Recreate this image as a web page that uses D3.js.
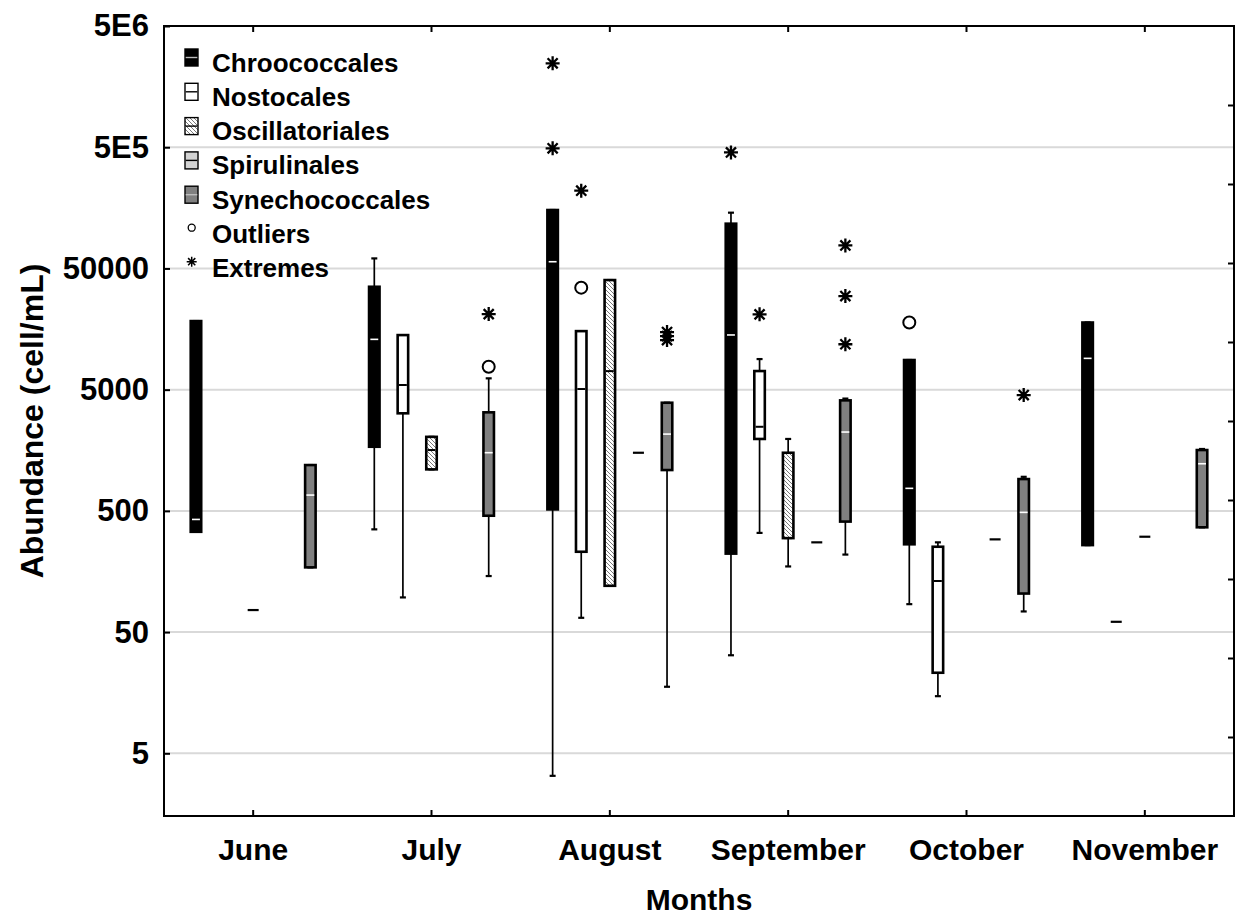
<!DOCTYPE html>
<html><head><meta charset="utf-8">
<script src="https://cdn.jsdelivr.net/npm/d3@7"></script>
<style>
body{margin:0;background:#fff}
svg{display:block}
text{font-family:"Liberation Sans",Arial,Helvetica,sans-serif;font-weight:bold;fill:#000}
</style>
</head><body>
<svg id="chart" width="1236" height="916"></svg>
<script>
// ---------- data ----------
const months = ["June","July","August","September","October","November"];
const orders = ["Chroococcales","Nostocales","Oscillatoriales","Spirulinales","Synechococcales"];
// per month: [lower whisker, Q1, median, Q3, upper whisker]; null = no data
const chroococcales   = [[336,336,425,18400,18400],[352,1690,13000,35300,60500],[3.26,514,56800,151700,151700],[32.2,222,14130,117000,144200],[85,265,767,8780,8780],[261,261,9060,17900,17900]];
const nostocales      = [null,[96.6,3190,5460,14100,14100],[65.6,230,5060,15200,15200],[329,1960,2470,7120,8940],[14.8,23.1,132,253,275],[60.8,60.8,60.8,60.8,60.8]];
const oscillatoriales = [[76,76,76,76,76],[1100,1100,1588,2040,2040],[120.5,120.5,7110,40100,40100],[174,298,298,1508,1960],null,[306,306,306,306,306]];
const spirulinales    = [null,null,[1508,1508,1508,1508,1508],[275,275,275,275,275],[291,291,291,291,291],null];
const synechococcales = [[171,171,675,1194,1194],[145,456,1510,3250,6200],[17.7,1086,2150,3900,3900],[218,408,2235,4080,4220],[74,104,486,915,955],[366,366,1224,1588,1620]];
const outliers = [["July","Synechococcales",7720],["August","Nostocales",34700],["October","Chroococcales",17900]];
const extremes = [["July","Synechococcales",21000],["August","Chroococcales",2460000],["August","Chroococcales",490000],["August","Nostocales",219000],["August","Synechococcales",14930],["August","Synechococcales",13830],["August","Synechococcales",12820],["September","Chroococcales",453000],["September","Nostocales",20900],["September","Synechococcales",77400],["September","Synechococcales",29600],["September","Synechococcales",11850],["October","Synechococcales",4510]];
const yTickValues = [5,50,500,5000,50000,500000,5000000];
const yTickLabels = ["5","50","500","5000","50000","5E5","5E6"];
const legendLabels = ["Chroococcales","Nostocales","Oscillatoriales","Spirulinales","Synechococcales","Outliers","Extremes"];

const statsBySeries = {Chroococcales:chroococcales,Nostocales:nostocales,Oscillatoriales:oscillatoriales,Spirulinales:spirulinales,Synechococcales:synechococcales};
const fills = {Chroococcales:"#000",Nostocales:"#fff",Oscillatoriales:"url(#hatch)",Spirulinales:"#d3d3d3",Synechococcales:"#808080"};
const medianColor = {Chroococcales:"#fff",Nostocales:"#000",Oscillatoriales:"#000",Spirulinales:"#000",Synechococcales:"#fff"};

// ---------- layout ----------
const L = 164, R = 1234, T = 26, B = 816;
const svg = d3.select("#chart");
const defs = svg.append("defs");
const pat = defs.append("pattern").attr("id","hatch").attr("patternUnits","userSpaceOnUse").attr("width",4).attr("height",4);
pat.append("rect").attr("width",4).attr("height",4).attr("fill","#fff");
pat.append("path").attr("d","M-1,-1L5,5M-1,3L1,5M3,-1L5,1").attr("stroke","#6a6a6a").attr("stroke-width",0.9);

const x = d3.scaleBand().domain(months).range([L,R]);
const slot = d3.scalePoint().domain(orders).range([-57.2,57.2]);
const cx = (m,s) => x(m) + x.bandwidth()/2 + slot(s);
const y = d3.scaleLog().domain([1.52,5e6]).range([B,T]);
const yRight = d3.scaleLinear().domain([0,10]).range([B,T]);

// gridlines
svg.append("g").selectAll("line").data(yTickValues).join("line")
  .attr("x1",L).attr("x2",R).attr("y1",d=>y(d)).attr("y2",d=>y(d))
  .attr("stroke","#d9d9d9").attr("stroke-width",2);

// axes
const fontTick = "31px";
const gl = svg.append("g").attr("transform",`translate(${L},0)`)
  .call(d3.axisLeft(y).tickValues(yTickValues).tickFormat((d,i)=>yTickLabels[i]).tickSize(-6).tickPadding(15));
const gb = svg.append("g").attr("transform",`translate(0,${B})`)
  .call(d3.axisBottom(x).tickSize(-6).tickPadding(23));
const gt = svg.append("g").attr("transform",`translate(0,${T})`)
  .call(d3.axisTop(x).tickSize(-6).tickFormat(""));
const gr = svg.append("g").attr("transform",`translate(${R},0)`)
  .call(d3.axisRight(yRight).tickValues(d3.range(1,10)).tickSize(-6).tickFormat(""));
[gl,gb,gt,gr].forEach(g=>{
  g.select(".domain").remove();
  g.selectAll(".tick line").attr("stroke","#000").attr("stroke-width",2);
  g.selectAll("text").style("font-size",fontTick).style("font-family",'"Liberation Sans",Arial,sans-serif').style("font-weight","bold").attr("fill","#000");
});
gb.selectAll("text").style("font-size","30px");
svg.append("rect").attr("x",L).attr("y",T).attr("width",R-L).attr("height",B-T)
  .attr("fill","none").attr("stroke","#000").attr("stroke-width",2);

// boxes
const plot = svg.append("g");
const boxW = 10.5, capW = 6;
orders.forEach(s=>{
  statsBySeries[s].forEach((st,i)=>{
    if(!st) return;
    const m = months[i], px = cx(m,s);
    const [lo,q1,med,q3,hi] = st;
    const g = plot.append("g");
    if(lo===hi){
      g.append("line").attr("x1",px-5.5).attr("x2",px+5.5).attr("y1",y(med)).attr("y2",y(med))
        .attr("stroke","#000").attr("stroke-width",2.2);
      return;
    }
    g.append("line").attr("x1",px).attr("x2",px).attr("y1",y(hi)).attr("y2",y(lo))
      .attr("stroke","#000").attr("stroke-width",1.7);
    [lo,hi].forEach(v=>g.append("line").attr("x1",px-capW/2).attr("x2",px+capW/2)
      .attr("y1",y(v)).attr("y2",y(v)).attr("stroke","#000").attr("stroke-width",2.2));
    g.append("rect").attr("x",px-boxW/2).attr("width",boxW).attr("y",y(q3)).attr("height",y(q1)-y(q3))
      .attr("fill",fills[s]).attr("stroke","#000").attr("stroke-width",2.6);
    g.append("line").attr("x1",px-boxW/2+1.3).attr("x2",px+boxW/2-1.3).attr("y1",y(med)).attr("y2",y(med))
      .attr("stroke",medianColor[s]).attr("stroke-width",s==="Nostocales"||s==="Oscillatoriales"?2:1.6);
  });
});

// outliers and extremes
function asterisk(sel,r,w){
  const d = r*0.72;
  sel.append("path").attr("d",`M0,${-r}V${r}M${-r},0H${r}M${-d},${-d}L${d},${d}M${-d},${d}L${d},${-d}`)
    .attr("stroke","#000").attr("stroke-width",w).attr("fill","none");
}
plot.selectAll("circle.out").data(outliers).join("circle").attr("class","out")
  .attr("cx",d=>cx(d[0],d[1])).attr("cy",d=>y(d[2])).attr("r",6)
  .attr("fill","#fff").attr("stroke","#000").attr("stroke-width",2);
extremes.forEach(d=>{
  const g = plot.append("g").attr("transform",`translate(${cx(d[0],d[1])},${y(d[2])})`);
  asterisk(g,7,2.3);
});

// axis titles
svg.append("text").attr("transform",`translate(43,${(T+B)/2}) rotate(-90)`).attr("text-anchor","middle")
  .style("font-size","32px").text("Abundance (cell/mL)");
svg.append("text").attr("x",(L+R)/2).attr("y",910).attr("text-anchor","middle")
  .style("font-size","30px").text("Months");

// legend
const lg = svg.append("g");
const step = 34.3, base0 = 71.5;
legendLabels.forEach((lab,i)=>{
  const by = base0 + i*step;
  lg.append("text").attr("x",212).attr("y",by).style("font-size","26px").text(lab);
  if(i<orders.length){
    const s = orders[i];
    lg.append("rect").attr("x",185).attr("y",by-22.5).attr("width",13).attr("height",17)
      .attr("fill",fills[s]).attr("stroke","#000").attr("stroke-width",1.4);
    lg.append("line").attr("x1",185.7).attr("x2",197.3).attr("y1",by-14).attr("y2",by-14)
      .attr("stroke",s==="Chroococcales"?"#bbb":(s==="Synechococcales"?"#bdbdbd":"#000")).attr("stroke-width",1.4);
  } else if(lab==="Outliers"){
    lg.append("circle").attr("cx",191.7).attr("cy",by-15.3).attr("r",3.5)
      .attr("fill","#fff").attr("stroke","#000").attr("stroke-width",1.3);
  } else {
    const g = lg.append("g").attr("transform",`translate(191.7,${by-15.6})`);
    asterisk(g,5,1.5);
  }
});
</script>
</body></html>
